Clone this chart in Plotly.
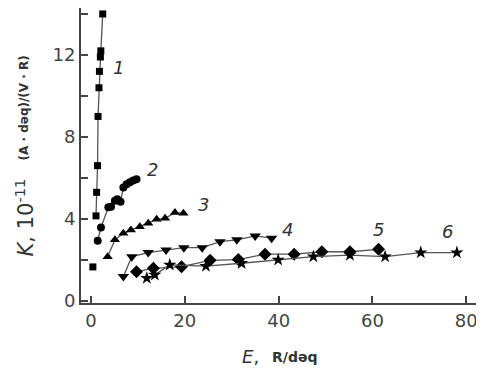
import plotly.graph_objects as go

# Series data (E, K)
s1_x = [1.07, 1.2, 1.4, 1.5, 1.7, 1.8, 2.0, 2.1, 2.5]
s1_y = [4.15, 5.3, 6.6, 9.0, 10.4, 11.2, 11.9, 12.2, 14.0]
s1_out_x = [0.4]
s1_out_y = [1.66]

s2_x = [1.43, 2.13, 3.7, 4.26, 5.1, 5.6, 6.3, 6.9, 7.6, 8.3, 9.0, 9.7]
s2_y = [2.94, 3.58, 4.57, 4.6, 4.89, 4.96, 4.84, 5.53, 5.69, 5.79, 5.87, 5.94]

s3_x = [3.55, 5.1, 6.9, 8.5, 10.4, 12.2, 14.0, 15.8, 17.9, 19.7]
s3_y = [2.16, 2.98, 3.30, 3.46, 3.62, 3.79, 3.98, 4.03, 4.31, 4.28]

s4_x = [6.9, 8.7, 12.2, 16.0, 19.8, 23.7, 27.5, 31.1, 35.0, 38.5]
s4_y = [1.19, 2.16, 2.36, 2.49, 2.60, 2.60, 2.89, 2.98, 3.17, 3.06]

s5_x = [9.7, 13.3, 19.3, 25.4, 31.4, 37.1, 43.3, 49.2, 55.2, 61.3]
s5_y = [1.43, 1.59, 1.67, 1.98, 2.02, 2.28, 2.28, 2.40, 2.40, 2.52]

s6_x = [11.9, 13.6, 16.8, 24.5, 32.1, 39.9, 47.4, 55.2, 62.7, 70.3, 78.0]
s6_y = [1.11, 1.27, 1.76, 1.70, 1.84, 2.0, 2.16, 2.24, 2.16, 2.36, 2.36]

series_labels = ["1", "2", "3", "4", "5", "6"]
label_x = [5.8, 13.2, 23.9, 41.8, 61.2, 75.9]
label_y = [11.4, 6.4, 4.7, 3.5, 3.5, 3.4]

x_ticks = [0, 20, 40, 60, 80]
y_ticks = [0, 2, 4, 6, 8, 10, 12, 14]
y_ticktext = ["0", " ", "4", " ", "8", " ", "12", " "]

FONT = "DejaVu Sans"
LINE = dict(color="#555555", width=1.3)
fig = go.Figure()

def add(xs, ys, symbol, size, mode="lines+markers"):
    fig.add_trace(go.Scatter(x=xs, y=ys, mode=mode, line=LINE,
                             marker=dict(symbol=symbol, size=size, color="black"),
                             showlegend=False))

add(s1_x, s1_y, "square", 7)
add(s1_out_x, s1_out_y, "square", 7, mode="markers")
add(s2_x, s2_y, "circle", 8)
add(s3_x, s3_y, "triangle-up", 9)
add(s4_x, s4_y, "triangle-down", 10)
add(s5_x, s5_y, "diamond", 10)
add(s6_x, s6_y, "star", 10)

for t, x, y in zip(series_labels, label_x, label_y):
    fig.add_annotation(x=x, y=y, text="<i>" + t + "</i>", showarrow=False,
                       font=dict(family=FONT, size=18, color="#333333"))

# y-axis title pieces
fig.add_annotation(xref="paper", yref="paper", x=-0.141, y=0.29,
                   xanchor="center", yanchor="middle",
                   text="<i>K</i>, 10<sup>-11</sup>", textangle=-90, showarrow=False,
                   font=dict(family=FONT, size=21, color="#333333"))
fig.add_annotation(xref="paper", yref="paper", x=-0.143, y=0.66,
                   xanchor="center", yanchor="middle",
                   text="<b>(A · dəq)/(V · R)</b>", textangle=-90, showarrow=False,
                   font=dict(family=FONT, size=12, color="#333333"))
# x-axis title pieces
fig.add_annotation(xref="paper", yref="paper", x=0.453, y=-0.183,
                   xanchor="right", yanchor="middle",
                   text="<i>E</i>,", showarrow=False,
                   font=dict(family=FONT, size=18, color="#333333"))
fig.add_annotation(xref="paper", yref="paper", x=0.476, y=-0.183,
                   xanchor="left", yanchor="middle",
                   text="<b>R/dəq</b>", showarrow=False,
                   font=dict(family=FONT, size=14, color="#333333"))

fig.update_xaxes(range=[-2.13, 82.5], tickvals=x_ticks, ticks="inside", ticklen=7,
                 tickwidth=1.5, tickcolor="#444444", showline=True, linecolor="#444444",
                 linewidth=2, showgrid=False, zeroline=False, automargin=False,
                 tickfont=dict(family=FONT, size=18, color="#444444"))
fig.update_yaxes(range=[-0.1, 14.29], tickvals=y_ticks, ticktext=y_ticktext,
                 ticks="inside", ticklen=7, tickwidth=1.5, tickcolor="#444444",
                 showline=True, linecolor="#444444", linewidth=2, showgrid=False,
                 zeroline=False, automargin=False,
                 tickfont=dict(family=FONT, size=18, color="#444444"))

# page body has an 8px margin, so the figure is sized/offset to compensate
fig.update_layout(width=476, height=362, margin=dict(l=73, r=6, t=0, b=67),
                  plot_bgcolor="white", paper_bgcolor="white")

fig.write_html("out.html")
